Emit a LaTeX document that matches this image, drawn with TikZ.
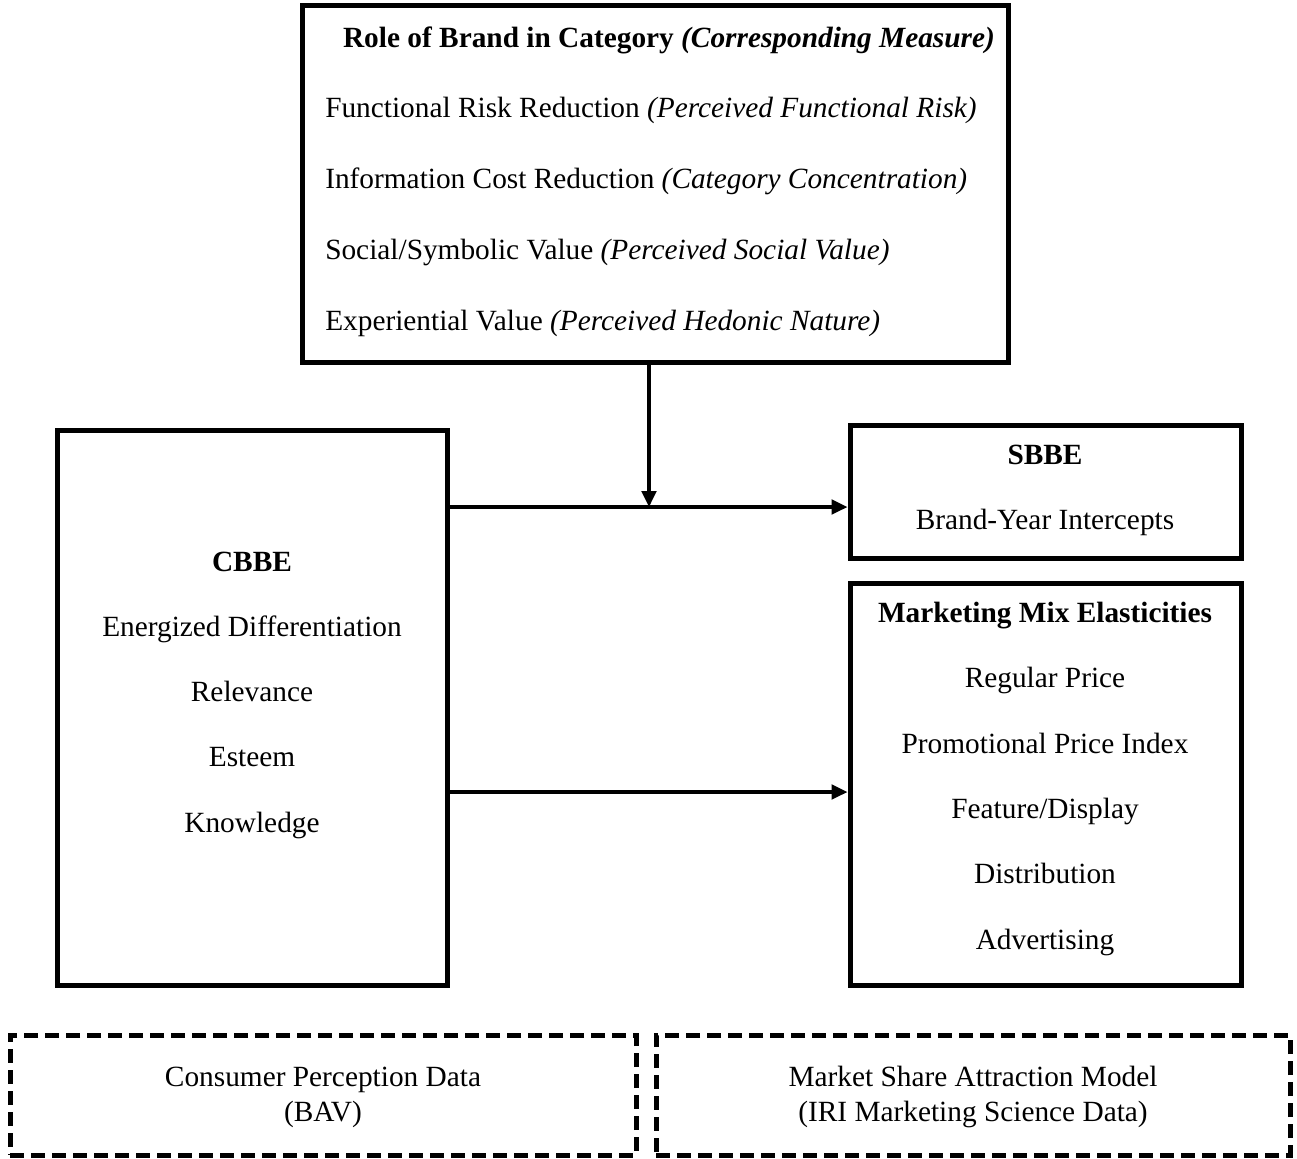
\documentclass[tikz,border=0pt]{standalone}
\usepackage{fontspec}
\setmainfont{Liberation Serif}
\usetikzlibrary{arrows.meta}
\begin{document}
\begin{tikzpicture}[x=0.75pt,y=-0.75pt,
  box/.style={draw,line width=3.75pt,rectangle,inner sep=0pt},
  dbox/.style={draw,line width=3.75pt,rectangle,inner sep=0pt,dash pattern=on 10.5pt off 5.25pt},
  txt/.style={anchor=base,inner sep=0pt,font=\fontsize{22}{26}\selectfont},
  ltxt/.style={anchor=base west,inner sep=0pt,font=\fontsize{22}{26}\selectfont},
  arr/.style={line width=2.4pt,-{Triangle[length=12pt,width=11pt]}}]
\useasboundingbox (0,0) rectangle (1297,1158);
% boxes
\node[box,minimum width=529.5pt,minimum height=267.75pt] (top) at (655,183.5) {};
\node[box,minimum width=292.5pt,minimum height=416.25pt] (cbbe) at (252,707.5) {};
\node[box,minimum width=293.25pt,minimum height=99.75pt] (sbbe) at (1045.5,491.5) {};
\node[box,minimum width=293.25pt,minimum height=301.5pt] (mme) at (1045.5,784) {};
\node[dbox,minimum width=469.5pt,minimum height=90pt] (cpd) at (323,1095) {};
\node[dbox,minimum width=475.5pt,minimum height=90pt] (msa) at (973,1095) {};
% top text
\node[txt] (t0) at (669,47) {\textbf{Role of Brand in Category} \textbf{\textit{(Corresponding Measure)}}};
\node[ltxt] (t1) at (325,117) {Functional Risk Reduction \textit{(Perceived Functional Risk)}};
\node[ltxt] (t2) at (325,188) {Information Cost Reduction \textit{(Category Concentration)}};
\node[ltxt] (t3) at (325,259) {Social/Symbolic Value \textit{(Perceived Social Value)}};
\node[ltxt] (t4) at (325,330) {Experiential Value \textit{(Perceived Hedonic Nature)}};
% CBBE text
\node[txt] (c0) at (252,571) {\textbf{CBBE}};
\node[txt] (c1) at (252,636) {Energized Differentiation};
\node[txt] (c2) at (252,701) {Relevance};
\node[txt] (c3) at (252,766) {Esteem};
\node[txt] (c4) at (252,832) {Knowledge};
% SBBE text
\node[txt] (s0) at (1045,464) {\textbf{SBBE}};
\node[txt] (s1) at (1045,529) {Brand-Year Intercepts};
% MME text
\node[txt] (m0) at (1045,622) {\textbf{Marketing Mix Elasticities}};
\node[txt] (m1) at (1045,687) {Regular Price};
\node[txt] (m2) at (1045,753) {Promotional Price Index};
\node[txt] (m3) at (1045,818) {Feature/Display};
\node[txt] (m4) at (1045,883) {Distribution};
\node[txt] (m5) at (1045,949) {Advertising};
% dashed text
\node[txt] (d0) at (323,1086) {Consumer Perception Data};
\node[txt] (d1) at (323,1121) {(BAV)};
\node[txt] (e0) at (973,1086) {Market Share Attraction Model};
\node[txt] (e1) at (973,1121) {(IRI Marketing Science Data)};
% connectors
\coordinate (j) at (649,507);
\coordinate (k) at (649,792);
\draw[arr] (j |- top.south) -- (j);
\draw[arr] (cbbe.east |- j) -- (sbbe.west |- j);
\draw[arr] (cbbe.east |- k) -- (mme.west |- k);
\end{tikzpicture}
\end{document}
